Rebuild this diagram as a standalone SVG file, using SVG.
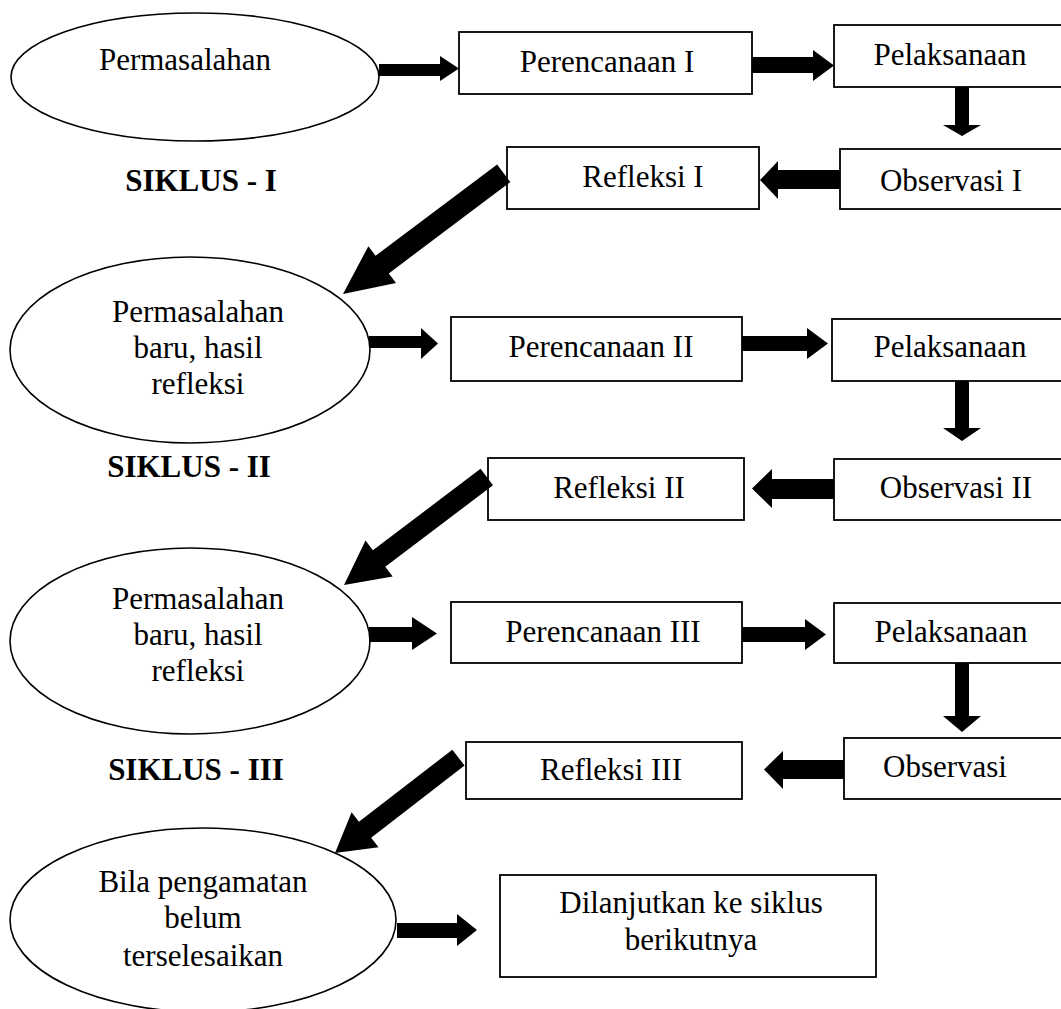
<svg xmlns="http://www.w3.org/2000/svg" width="1061" height="1009" viewBox="0 0 1061 1009">
  <style>
    .box { fill: #fff; stroke: #000; stroke-width: 1.8; }
    .oval { fill: #fff; stroke: #000; stroke-width: 1.6; }
    .lbl { font-family: "Liberation Serif", "Times New Roman", serif; font-size: 31px; fill: #000; text-anchor: middle; }
    .cyc { font-family: "Liberation Serif", "Times New Roman", serif; font-size: 31px; font-weight: bold; fill: #000; text-anchor: middle; }
    .arw { fill: #000; stroke: none; }
  </style>
  <defs>
    <!-- block arrow shapes, tip at origin pointing along +x -->
    <polygon id="diagLong" points="-201,-11 -49,-11 -49,-23 0,0 -49,23 -49,11 -201,11"/>
    <polygon id="diagMid" points="-179,-10.3 -44,-10.3 -44,-22.5 0,0 -44,22.5 -44,10.3 -179,10.3"/>
    <polygon id="diagShort" points="-156,-10 -38,-10 -38,-22 0,0 -38,22 -38,10 -156,10"/>
  </defs>

  <rect width="1061" height="1009" fill="#fff"/>

  <!-- cycle labels -->
  <text class="cyc" x="201" y="191">SIKLUS - I</text>
  <text class="cyc" x="189" y="477">SIKLUS - II</text>
  <text class="cyc" x="196" y="780">SIKLUS - III</text>

  <!-- Cycle I -->
  <g id="problem1">
    <ellipse class="oval" cx="195" cy="77" rx="184" ry="64"/>
    <text class="lbl" x="185" y="70">Permasalahan</text>
  </g>
  <g id="plan1">
    <rect class="box" x="459" y="32" width="293" height="62"/>
    <text class="lbl" x="607" y="72">Perencanaan I</text>
  </g>
  <g id="act1">
    <rect class="box" x="834" y="25" width="240" height="62"/>
    <text class="lbl" x="950" y="65">Pelaksanaan</text>
  </g>
  <g id="observe1">
    <rect class="box" x="840" y="149" width="234" height="60"/>
    <text class="lbl" x="951" y="191">Observasi I</text>
  </g>
  <g id="reflect1">
    <rect class="box" x="507" y="147" width="252" height="62"/>
    <text class="lbl" x="643" y="187">Refleksi I</text>
  </g>

  <!-- Cycle II -->
  <g id="problem2">
    <ellipse class="oval" cx="190" cy="350" rx="180" ry="93"/>
    <text class="lbl" x="198" y="322">Permasalahan</text>
    <text class="lbl" x="198" y="358">baru, hasil</text>
    <text class="lbl" x="198" y="394">refleksi</text>
  </g>
  <g id="plan2">
    <rect class="box" x="451" y="317" width="291" height="64"/>
    <text class="lbl" x="601" y="357">Perencanaan II</text>
  </g>
  <g id="act2">
    <rect class="box" x="832" y="319" width="242" height="62"/>
    <text class="lbl" x="950" y="357">Pelaksanaan</text>
  </g>
  <g id="observe2">
    <rect class="box" x="834" y="459" width="240" height="61"/>
    <text class="lbl" x="956" y="498">Observasi II</text>
  </g>
  <g id="reflect2">
    <rect class="box" x="488" y="458" width="256" height="62"/>
    <text class="lbl" x="619" y="498">Refleksi II</text>
  </g>

  <!-- Cycle III -->
  <g id="problem3">
    <ellipse class="oval" cx="190" cy="641" rx="180" ry="93"/>
    <text class="lbl" x="198" y="609">Permasalahan</text>
    <text class="lbl" x="198" y="645">baru, hasil</text>
    <text class="lbl" x="198" y="681">refleksi</text>
  </g>
  <g id="plan3">
    <rect class="box" x="451" y="602" width="291" height="61"/>
    <text class="lbl" x="603" y="642">Perencanaan III</text>
  </g>
  <g id="act3">
    <rect class="box" x="834" y="603" width="240" height="60"/>
    <text class="lbl" x="951" y="642">Pelaksanaan</text>
  </g>
  <g id="observe3">
    <rect class="box" x="844" y="738" width="230" height="61"/>
    <text class="lbl" x="945" y="777">Observasi</text>
  </g>
  <g id="reflect3">
    <rect class="box" x="466" y="742" width="276" height="57"/>
    <text class="lbl" x="611" y="780">Refleksi III</text>
  </g>

  <!-- closing step -->
  <g id="pending">
    <ellipse class="oval" cx="203" cy="920" rx="193" ry="92"/>
    <text class="lbl" x="203" y="892">Bila pengamatan</text>
    <text class="lbl" x="203" y="928">belum</text>
    <text class="lbl" x="203" y="966">terselesaikan</text>
  </g>
  <g id="next">
    <rect class="box" x="500" y="875" width="376" height="102"/>
    <text class="lbl" x="691" y="913">Dilanjutkan ke siklus</text>
    <text class="lbl" x="691" y="950">berikutnya</text>
  </g>

  <!-- connectors -->
  <g id="connectors" class="arw">
    <!-- cycle I -->
    <polygon points="379,64 440,64 440,56 459,68.5 440,81 440,76 379,76"/>
    <polygon points="752,57 813,57 813,50 834,65.5 813,81 813,73 752,73"/>
    <polygon points="955,87 969,87 969,125 981,125 962,136 943,125 955,125"/>
    <polygon points="840,170 778,170 778,161 760,180 778,199 778,189 840,189"/>
    <use href="#diagLong" transform="translate(343,294) rotate(143.1)"/>
    <!-- cycle II -->
    <polygon points="369,336 421,336 421,328 438,343.5 421,359 421,348 369,348"/>
    <polygon points="742,336 807,336 807,328 828,343.5 807,359 807,351 742,351"/>
    <polygon points="955,381 969,381 969,428 981,428 962,441 943,428 955,428"/>
    <polygon points="834,479 772,479 772,469 752,488.5 772,508 772,499 834,499"/>
    <use href="#diagMid" transform="translate(344,585) rotate(142.9)"/>
    <!-- cycle III -->
    <polygon points="369,627 412,627 412,617 437,633.5 412,650 412,642 369,642"/>
    <polygon points="742,627 805,627 805,619 826,634.5 805,650 805,642 742,642"/>
    <polygon points="955,663 969,663 969,716 981,716 962,732 943,716 955,716"/>
    <polygon points="844,760 783,760 783,751 764,769.5 783,789 783,779 844,779"/>
    <use href="#diagShort" transform="translate(335,853) rotate(142.3)"/>
    <!-- closing -->
    <polygon points="397,923 457,923 457,914 477,930 457,946 457,938 397,938"/>
  </g>
</svg>
